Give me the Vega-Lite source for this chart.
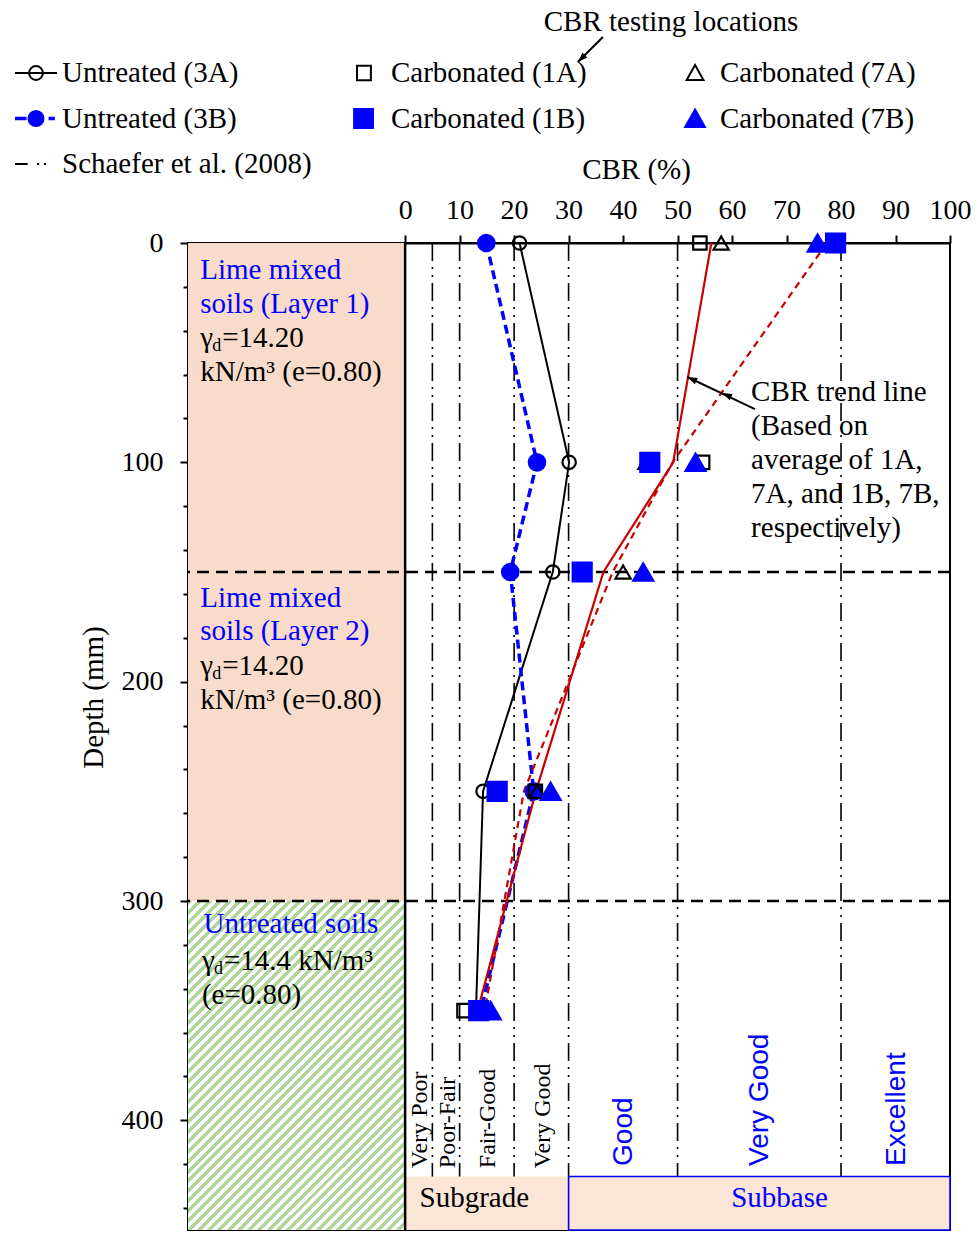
{
"$schema": "https://vega.github.io/schema/vega-lite/v6.json",
"width": 762,
"height": 987,
"autosize": {"type": "none"},
"padding": {"left": 188, "top": 243, "right": 28, "bottom": 11},
"background": "white",
"config": {
  "font": "Liberation Serif",
  "view": {"stroke": "black", "strokeWidth": 2},
  "axis": {"domainColor": "black", "domainWidth": 2, "tickColor": "black", "tickWidth": 2, "labelColor": "black", "labelFont": "Liberation Serif", "labelFontSize": 28, "titleFont": "Liberation Serif", "titleFontSize": 29, "titleFontWeight": "normal", "titleColor": "black", "grid": false, "labelFlush": false, "labelOverlap": false}
},
"datasets": {
  "tests": [
    {"location":"3A","depth":0,"cbr":21.0},{"location":"3A","depth":100,"cbr":30.1},{"location":"3A","depth":150,"cbr":27.1},{"location":"3A","depth":250,"cbr":14.3},{"location":"3A","depth":350,"cbr":13.0},
    {"location":"3B","depth":0,"cbr":14.9},{"location":"3B","depth":100,"cbr":24.2},{"location":"3B","depth":150,"cbr":19.3},{"location":"3B","depth":250,"cbr":23.6},{"location":"3B","depth":350,"cbr":13.9},
    {"location":"7A","depth":0,"cbr":58.0},{"location":"7A","depth":100,"cbr":44.2},{"location":"7A","depth":150,"cbr":40.0},{"location":"7A","depth":250,"cbr":24.2},{"location":"7A","depth":350,"cbr":15.8},
    {"location":"1A","depth":0,"cbr":54.1},{"location":"1A","depth":100,"cbr":54.6},{"location":"1A","depth":150,"cbr":32.8},{"location":"1A","depth":250,"cbr":23.9},{"location":"1A","depth":350,"cbr":10.8},
    {"location":"1B","depth":0,"cbr":79.0},{"location":"1B","depth":100,"cbr":44.9},{"location":"1B","depth":150,"cbr":32.5},{"location":"1B","depth":250,"cbr":16.9},{"location":"1B","depth":350,"cbr":13.5},
    {"location":"7B","depth":0,"cbr":75.7},{"location":"7B","depth":100,"cbr":53.3},{"location":"7B","depth":150,"cbr":43.7},{"location":"7B","depth":250,"cbr":26.7},{"location":"7B","depth":350,"cbr":15.7}
  ],
  "trend": [
    {"trend":"1A & 7A","depth":0,"cbr":56.2},{"trend":"1A & 7A","depth":100,"cbr":49.2},{"trend":"1A & 7A","depth":150,"cbr":36.4},{"trend":"1A & 7A","depth":250,"cbr":24.0},{"trend":"1A & 7A","depth":350,"cbr":13.3},
    {"trend":"1B & 7B","depth":0,"cbr":77.4},{"trend":"1B & 7B","depth":100,"cbr":49.1},{"trend":"1B & 7B","depth":150,"cbr":38.1},{"trend":"1B & 7B","depth":250,"cbr":21.8},{"trend":"1B & 7B","depth":350,"cbr":14.6}
  ],
  "schaefer": [{"cbr":5},{"cbr":10},{"cbr":20},{"cbr":30},{"cbr":50},{"cbr":80}],
  "classes": [
    {"class":"Very Poor","cbr":2.7,"use":"Subgrade"},{"class":"Poor-Fair","cbr":7.8,"use":"Subgrade"},{"class":"Fair-Good","cbr":15.3,"use":"Subgrade"},{"class":"Very Good","cbr":25.3,"use":"Subgrade"},
    {"class":"Good","cbr":40.2,"use":"Subbase"},{"class":"Very Good","cbr":65.2,"use":"Subbase"},{"class":"Excellent","cbr":90.3,"use":"Subbase"}
  ],
  "soils": [{"soil":"Lime mixed soils","top":0,"bottom":300},{"soil":"Untreated soils","top":300,"bottom":450}],
  "boundaries": [{"depth":150},{"depth":300}],
  "zones": [{"zone":"Subgrade","from":0,"to":30,"mid":12.7},{"zone":"Subbase","from":30,"to":100,"mid":68.7}],
  "soilText": [
    {"line":"Lime mixed","role":"heading","cbr":-37.6,"depth":16.4},
    {"line":"soils (Layer 1)","role":"heading","cbr":-37.6,"depth":31.9},
    {"line":"kN/m³ (e=0.80)","role":"note","cbr":-37.6,"depth":62.9},
    {"line":"Lime mixed","role":"heading","cbr":-37.6,"depth":165.8},
    {"line":"soils (Layer 2)","role":"heading","cbr":-37.6,"depth":181.0},
    {"line":"kN/m³ (e=0.80)","role":"note","cbr":-37.6,"depth":212.5},
    {"line":"Untreated soils","role":"heading","cbr":-37.0,"depth":314.7},
    {"line":"(e=0.80)","role":"note","cbr":-37.3,"depth":346.9}
  ],
  "gammaText": [
    {"cbr":-37.6,"depth":47.4,"rest":"=14.20"},
    {"cbr":-37.6,"depth":197.0,"rest":"=14.20"},
    {"cbr":-37.3,"depth":331.3,"rest":"=14.4 kN/m³"}
  ],
  "arrows": [
    {"arrow":"testing","cbr":36.3,"depth":-93.9,"cbr_end":31.7,"depth_end":-82.5},
    {"arrow":"trend","cbr":64.2,"depth":75.7,"cbr_end":51.8,"depth_end":61.1}
  ],
  "arrowheads": [
    {"arrow":"testing","cbr":31.7,"depth":-82.5},
    {"arrow":"trend","cbr":51.8,"depth":61.1},
    {"arrow":"trend","cbr":58.2,"depth":68.4}
  ],
  "notes": [
    {"note":"trend","cbr":63.5,"depth":72.0},
    {"note":"testing","cbr":48.8,"depth":-96.7}
  ],
  "legendItems": [
    {"item":"Untreated (3A)"},{"item":"Carbonated (1A)"},{"item":"Carbonated (7A)"},
    {"item":"Untreated (3B)"},{"item":"Carbonated (1B)"},{"item":"Carbonated (7B)"},
    {"item":"Schaefer et al. (2008)"}
  ]
},
"layer": [
  {
    "data": {"name": "soils"},
    "transform": [{"filter": "datum.soil === 'Lime mixed soils'"}],
    "mark": {"type": "rect", "fill": "#f8dbca"},
    "encoding": {
      "x": {"datum": -39.85, "type": "quantitative"},
      "x2": {"datum": 0},
      "y": {"field": "top", "type": "quantitative"},
      "y2": {"field": "bottom"}
    }
  },
  {
    "data": {"name": "soils"},
    "transform": [{"filter": "datum.soil === 'Untreated soils'"}],
    "mark": {"type": "rect", "fill": {"gradient": "linear", "x1": 0, "y1": 0, "x2": 0.7628, "y2": 1.1565, "stops": [
      {"offset":0,"color":"#b2d59c"},{"offset":0.0091,"color":"#b2d59c"},{"offset":0.0091,"color":"#fff"},{"offset":0.0182,"color":"#fff"},
      {"offset":0.0182,"color":"#b2d59c"},{"offset":0.0273,"color":"#b2d59c"},{"offset":0.0273,"color":"#fff"},{"offset":0.0364,"color":"#fff"},
      {"offset":0.0364,"color":"#b2d59c"},{"offset":0.0455,"color":"#b2d59c"},{"offset":0.0455,"color":"#fff"},{"offset":0.0545,"color":"#fff"},
      {"offset":0.0545,"color":"#b2d59c"},{"offset":0.0636,"color":"#b2d59c"},{"offset":0.0636,"color":"#fff"},{"offset":0.0727,"color":"#fff"},
      {"offset":0.0727,"color":"#b2d59c"},{"offset":0.0818,"color":"#b2d59c"},{"offset":0.0818,"color":"#fff"},{"offset":0.0909,"color":"#fff"},
      {"offset":0.0909,"color":"#b2d59c"},{"offset":0.1,"color":"#b2d59c"},{"offset":0.1,"color":"#fff"},{"offset":0.1091,"color":"#fff"},
      {"offset":0.1091,"color":"#b2d59c"},{"offset":0.1182,"color":"#b2d59c"},{"offset":0.1182,"color":"#fff"},{"offset":0.1273,"color":"#fff"},
      {"offset":0.1273,"color":"#b2d59c"},{"offset":0.1364,"color":"#b2d59c"},{"offset":0.1364,"color":"#fff"},{"offset":0.1455,"color":"#fff"},
      {"offset":0.1455,"color":"#b2d59c"},{"offset":0.1545,"color":"#b2d59c"},{"offset":0.1545,"color":"#fff"},{"offset":0.1636,"color":"#fff"},
      {"offset":0.1636,"color":"#b2d59c"},{"offset":0.1727,"color":"#b2d59c"},{"offset":0.1727,"color":"#fff"},{"offset":0.1818,"color":"#fff"},
      {"offset":0.1818,"color":"#b2d59c"},{"offset":0.1909,"color":"#b2d59c"},{"offset":0.1909,"color":"#fff"},{"offset":0.2,"color":"#fff"},
      {"offset":0.2,"color":"#b2d59c"},{"offset":0.2091,"color":"#b2d59c"},{"offset":0.2091,"color":"#fff"},{"offset":0.2182,"color":"#fff"},
      {"offset":0.2182,"color":"#b2d59c"},{"offset":0.2273,"color":"#b2d59c"},{"offset":0.2273,"color":"#fff"},{"offset":0.2364,"color":"#fff"},
      {"offset":0.2364,"color":"#b2d59c"},{"offset":0.2455,"color":"#b2d59c"},{"offset":0.2455,"color":"#fff"},{"offset":0.2545,"color":"#fff"},
      {"offset":0.2545,"color":"#b2d59c"},{"offset":0.2636,"color":"#b2d59c"},{"offset":0.2636,"color":"#fff"},{"offset":0.2727,"color":"#fff"},
      {"offset":0.2727,"color":"#b2d59c"},{"offset":0.2818,"color":"#b2d59c"},{"offset":0.2818,"color":"#fff"},{"offset":0.2909,"color":"#fff"},
      {"offset":0.2909,"color":"#b2d59c"},{"offset":0.3,"color":"#b2d59c"},{"offset":0.3,"color":"#fff"},{"offset":0.3091,"color":"#fff"},
      {"offset":0.3091,"color":"#b2d59c"},{"offset":0.3182,"color":"#b2d59c"},{"offset":0.3182,"color":"#fff"},{"offset":0.3273,"color":"#fff"},
      {"offset":0.3273,"color":"#b2d59c"},{"offset":0.3364,"color":"#b2d59c"},{"offset":0.3364,"color":"#fff"},{"offset":0.3455,"color":"#fff"},
      {"offset":0.3455,"color":"#b2d59c"},{"offset":0.3545,"color":"#b2d59c"},{"offset":0.3545,"color":"#fff"},{"offset":0.3636,"color":"#fff"},
      {"offset":0.3636,"color":"#b2d59c"},{"offset":0.3727,"color":"#b2d59c"},{"offset":0.3727,"color":"#fff"},{"offset":0.3818,"color":"#fff"},
      {"offset":0.3818,"color":"#b2d59c"},{"offset":0.3909,"color":"#b2d59c"},{"offset":0.3909,"color":"#fff"},{"offset":0.4,"color":"#fff"},
      {"offset":0.4,"color":"#b2d59c"},{"offset":0.4091,"color":"#b2d59c"},{"offset":0.4091,"color":"#fff"},{"offset":0.4182,"color":"#fff"},
      {"offset":0.4182,"color":"#b2d59c"},{"offset":0.4273,"color":"#b2d59c"},{"offset":0.4273,"color":"#fff"},{"offset":0.4364,"color":"#fff"},
      {"offset":0.4364,"color":"#b2d59c"},{"offset":0.4455,"color":"#b2d59c"},{"offset":0.4455,"color":"#fff"},{"offset":0.4545,"color":"#fff"},
      {"offset":0.4545,"color":"#b2d59c"},{"offset":0.4636,"color":"#b2d59c"},{"offset":0.4636,"color":"#fff"},{"offset":0.4727,"color":"#fff"},
      {"offset":0.4727,"color":"#b2d59c"},{"offset":0.4818,"color":"#b2d59c"},{"offset":0.4818,"color":"#fff"},{"offset":0.4909,"color":"#fff"},
      {"offset":0.4909,"color":"#b2d59c"},{"offset":0.5,"color":"#b2d59c"},{"offset":0.5,"color":"#fff"},{"offset":0.5091,"color":"#fff"},
      {"offset":0.5091,"color":"#b2d59c"},{"offset":0.5182,"color":"#b2d59c"},{"offset":0.5182,"color":"#fff"},{"offset":0.5273,"color":"#fff"},
      {"offset":0.5273,"color":"#b2d59c"},{"offset":0.5364,"color":"#b2d59c"},{"offset":0.5364,"color":"#fff"},{"offset":0.5455,"color":"#fff"},
      {"offset":0.5455,"color":"#b2d59c"},{"offset":0.5545,"color":"#b2d59c"},{"offset":0.5545,"color":"#fff"},{"offset":0.5636,"color":"#fff"},
      {"offset":0.5636,"color":"#b2d59c"},{"offset":0.5727,"color":"#b2d59c"},{"offset":0.5727,"color":"#fff"},{"offset":0.5818,"color":"#fff"},
      {"offset":0.5818,"color":"#b2d59c"},{"offset":0.5909,"color":"#b2d59c"},{"offset":0.5909,"color":"#fff"},{"offset":0.6,"color":"#fff"},
      {"offset":0.6,"color":"#b2d59c"},{"offset":0.6091,"color":"#b2d59c"},{"offset":0.6091,"color":"#fff"},{"offset":0.6182,"color":"#fff"},
      {"offset":0.6182,"color":"#b2d59c"},{"offset":0.6273,"color":"#b2d59c"},{"offset":0.6273,"color":"#fff"},{"offset":0.6364,"color":"#fff"},
      {"offset":0.6364,"color":"#b2d59c"},{"offset":0.6455,"color":"#b2d59c"},{"offset":0.6455,"color":"#fff"},{"offset":0.6545,"color":"#fff"},
      {"offset":0.6545,"color":"#b2d59c"},{"offset":0.6636,"color":"#b2d59c"},{"offset":0.6636,"color":"#fff"},{"offset":0.6727,"color":"#fff"},
      {"offset":0.6727,"color":"#b2d59c"},{"offset":0.6818,"color":"#b2d59c"},{"offset":0.6818,"color":"#fff"},{"offset":0.6909,"color":"#fff"},
      {"offset":0.6909,"color":"#b2d59c"},{"offset":0.7,"color":"#b2d59c"},{"offset":0.7,"color":"#fff"},{"offset":0.7091,"color":"#fff"},
      {"offset":0.7091,"color":"#b2d59c"},{"offset":0.7182,"color":"#b2d59c"},{"offset":0.7182,"color":"#fff"},{"offset":0.7273,"color":"#fff"},
      {"offset":0.7273,"color":"#b2d59c"},{"offset":0.7364,"color":"#b2d59c"},{"offset":0.7364,"color":"#fff"},{"offset":0.7455,"color":"#fff"},
      {"offset":0.7455,"color":"#b2d59c"},{"offset":0.7545,"color":"#b2d59c"},{"offset":0.7545,"color":"#fff"},{"offset":0.7636,"color":"#fff"},
      {"offset":0.7636,"color":"#b2d59c"},{"offset":0.7727,"color":"#b2d59c"},{"offset":0.7727,"color":"#fff"},{"offset":0.7818,"color":"#fff"},
      {"offset":0.7818,"color":"#b2d59c"},{"offset":0.7909,"color":"#b2d59c"},{"offset":0.7909,"color":"#fff"},{"offset":0.8,"color":"#fff"},
      {"offset":0.8,"color":"#b2d59c"},{"offset":0.8091,"color":"#b2d59c"},{"offset":0.8091,"color":"#fff"},{"offset":0.8182,"color":"#fff"},
      {"offset":0.8182,"color":"#b2d59c"},{"offset":0.8273,"color":"#b2d59c"},{"offset":0.8273,"color":"#fff"},{"offset":0.8364,"color":"#fff"},
      {"offset":0.8364,"color":"#b2d59c"},{"offset":0.8455,"color":"#b2d59c"},{"offset":0.8455,"color":"#fff"},{"offset":0.8545,"color":"#fff"},
      {"offset":0.8545,"color":"#b2d59c"},{"offset":0.8636,"color":"#b2d59c"},{"offset":0.8636,"color":"#fff"},{"offset":0.8727,"color":"#fff"},
      {"offset":0.8727,"color":"#b2d59c"},{"offset":0.8818,"color":"#b2d59c"},{"offset":0.8818,"color":"#fff"},{"offset":0.8909,"color":"#fff"},
      {"offset":0.8909,"color":"#b2d59c"},{"offset":0.9,"color":"#b2d59c"},{"offset":0.9,"color":"#fff"},{"offset":0.9091,"color":"#fff"},
      {"offset":0.9091,"color":"#b2d59c"},{"offset":0.9182,"color":"#b2d59c"},{"offset":0.9182,"color":"#fff"},{"offset":0.9273,"color":"#fff"},
      {"offset":0.9273,"color":"#b2d59c"},{"offset":0.9364,"color":"#b2d59c"},{"offset":0.9364,"color":"#fff"},{"offset":0.9455,"color":"#fff"},
      {"offset":0.9455,"color":"#b2d59c"},{"offset":0.9545,"color":"#b2d59c"},{"offset":0.9545,"color":"#fff"},{"offset":0.9636,"color":"#fff"},
      {"offset":0.9636,"color":"#b2d59c"},{"offset":0.9727,"color":"#b2d59c"},{"offset":0.9727,"color":"#fff"},{"offset":0.9818,"color":"#fff"},
      {"offset":0.9818,"color":"#b2d59c"},{"offset":0.9909,"color":"#b2d59c"},{"offset":0.9909,"color":"#fff"},{"offset":1,"color":"#fff"}
    ]}},
    "encoding": {
      "x": {"datum": -39.85, "type": "quantitative"},
      "x2": {"datum": 0},
      "y": {"field": "top", "type": "quantitative"},
      "y2": {"field": "bottom"}
    }
  },
  {
    "data": {"name": "schaefer"},
    "mark": {"type": "rule", "color": "black", "strokeWidth": 1.6, "strokeDash": [18, 6, 2, 6, 2, 6]},
    "encoding": {"x": {"field": "cbr", "type": "quantitative"}}
  },
  {
    "data": {"name": "zones"},
    "mark": {"type": "rect", "fill": "#fbe5d6", "strokeWidth": 1.6},
    "encoding": {
      "x": {"field": "from", "type": "quantitative"},
      "x2": {"field": "to"},
      "y": {"datum": 425.6, "type": "quantitative"},
      "y2": {"datum": 450},
      "stroke": {"condition": {"test": "datum.zone === 'Subbase'", "value": "#0000ff"}, "value": "transparent"}
    }
  },
  {
    "data": {"name": "boundaries"},
    "mark": {"type": "rule", "color": "black", "strokeWidth": 2.5, "strokeDash": [12, 7]},
    "encoding": {"y": {"field": "depth", "type": "quantitative"}}
  },
  {
    "data": {"values": [{"cbr": 0}]},
    "mark": {"type": "rule", "color": "black", "strokeWidth": 2.5},
    "encoding": {"x": {"field": "cbr", "type": "quantitative"}}
  },
  {
    "data": {"name": "tests"},
    "transform": [{"filter": "datum.location === '3A'"}],
    "mark": {"type": "line", "color": "black", "strokeWidth": 2},
    "encoding": {
      "x": {"field": "cbr", "type": "quantitative",
        "scale": {"domain": [-39.85, 100], "nice": false, "zero": false},
        "axis": {"orient": "top", "title": "CBR (%)",
          "values": [0,5,10,15,20,25,30,35,40,45,50,55,60,65,70,75,80,85,90,95,100],
          "labelExpr": "datum.value % 10 === 0 ? datum.label : ''",
          "tickSize": {"condition": {"test": "datum.value % 10 === 0", "value": 8}, "value": 5},
          "labelPadding": 11, "titleX": 448, "titleY": -74, "titleBaseline": "middle"}},
      "y": {"field": "depth", "type": "quantitative",
        "scale": {"domain": [0, 450], "nice": false, "zero": false, "reverse": true},
        "axis": {"title": "Depth (mm)",
          "values": [0,10,20,30,40,50,60,70,80,90,100,110,120,130,140,150,160,170,180,190,200,210,220,230,240,250,260,270,280,290,300,310,320,330,340,350,360,370,380,390,400,410,420,430,440,450],
          "labelExpr": "datum.value % 50 === 0 ? datum.label : ''",
          "tickSize": {"condition": {"test": "datum.value % 50 === 0", "value": 8}, "value": 5},
          "labelPadding": 17, "titleX": -95, "titleY": 454, "titleBaseline": "middle"}},
      "order": {"field": "depth", "type": "quantitative"}
    }
  },
  {
    "data": {"name": "tests"},
    "transform": [{"filter": "datum.location === '3B'"}],
    "mark": {"type": "line", "color": "#0000ff", "strokeWidth": 3.5, "strokeDash": [9, 5]},
    "encoding": {
      "x": {"field": "cbr", "type": "quantitative"},
      "y": {"field": "depth", "type": "quantitative"},
      "order": {"field": "depth", "type": "quantitative"}
    }
  },
  {
    "data": {"name": "trend"},
    "transform": [{"filter": "datum.trend === '1A & 7A'"}],
    "mark": {"type": "line", "color": "#c80000", "strokeWidth": 2.2},
    "encoding": {
      "x": {"field": "cbr", "type": "quantitative"},
      "y": {"field": "depth", "type": "quantitative"},
      "order": {"field": "depth", "type": "quantitative"}
    }
  },
  {
    "data": {"name": "trend"},
    "transform": [{"filter": "datum.trend === '1B & 7B'"}],
    "mark": {"type": "line", "color": "#c80000", "strokeWidth": 2.2, "strokeDash": [7, 5]},
    "encoding": {
      "x": {"field": "cbr", "type": "quantitative"},
      "y": {"field": "depth", "type": "quantitative"},
      "order": {"field": "depth", "type": "quantitative"}
    }
  },
  {
    "data": {"name": "tests"},
    "mark": {"type": "point", "opacity": 1, "strokeWidth": 2.2},
    "encoding": {
      "x": {"field": "cbr", "type": "quantitative"},
      "y": {"field": "depth", "type": "quantitative"},
      "shape": {"condition": [
        {"test": "indexof(datum.location, '1') === 0", "value": "square"},
        {"test": "indexof(datum.location, '7') === 0", "value": "triangle-up"}], "value": "circle"},
      "stroke": {"condition": {"test": "indexof(datum.location, 'B') >= 0", "value": "#0000ff"}, "value": "black"},
      "fill": {"condition": {"test": "indexof(datum.location, 'B') >= 0", "value": "#0000ff"}, "value": "transparent"},
      "size": {"condition": [
        {"test": "datum.location === '7B'", "value": 400},
        {"test": "datum.location === '1B'", "value": 360},
        {"test": "datum.location === '3B'", "value": 270},
        {"test": "datum.location === '7A'", "value": 230}], "value": 180}
    }
  },
  {
    "data": {"name": "soilText"},
    "mark": {"type": "text", "align": "left", "baseline": "alphabetic", "fontSize": 29},
    "encoding": {
      "x": {"field": "cbr", "type": "quantitative"},
      "y": {"field": "depth", "type": "quantitative"},
      "text": {"field": "line"},
      "color": {"condition": {"test": "datum.role === 'heading'", "value": "#0000ff"}, "value": "black"}
    }
  },
  {
    "data": {"name": "gammaText"},
    "mark": {"type": "text", "align": "left", "baseline": "alphabetic", "fontSize": 29, "color": "black", "text": "γ"},
    "encoding": {"x": {"field": "cbr", "type": "quantitative"}, "y": {"field": "depth", "type": "quantitative"}}
  },
  {
    "data": {"name": "gammaText"},
    "mark": {"type": "text", "align": "left", "baseline": "alphabetic", "fontSize": 18, "color": "black", "text": "d", "dx": 12, "dy": 4},
    "encoding": {"x": {"field": "cbr", "type": "quantitative"}, "y": {"field": "depth", "type": "quantitative"}}
  },
  {
    "data": {"name": "gammaText"},
    "mark": {"type": "text", "align": "left", "baseline": "alphabetic", "fontSize": 29, "color": "black", "dx": 22},
    "encoding": {"x": {"field": "cbr", "type": "quantitative"}, "y": {"field": "depth", "type": "quantitative"}, "text": {"field": "rest"}}
  },
  {
    "data": {"name": "classes"},
    "transform": [{"filter": "datum.use === 'Subgrade'"}],
    "mark": {"type": "text", "angle": 270, "align": "left", "baseline": "middle", "fontSize": 24, "color": "black"},
    "encoding": {"x": {"field": "cbr", "type": "quantitative"}, "y": {"datum": 421.8, "type": "quantitative"}, "text": {"field": "class"}}
  },
  {
    "data": {"name": "classes"},
    "transform": [{"filter": "datum.use === 'Subbase'"}],
    "mark": {"type": "text", "angle": 270, "align": "left", "baseline": "middle", "fontSize": 28, "font": "Liberation Sans", "color": "#0000ff"},
    "encoding": {"x": {"field": "cbr", "type": "quantitative"}, "y": {"datum": 420.8, "type": "quantitative"}, "text": {"field": "class"}}
  },
  {
    "data": {"name": "zones"},
    "mark": {"type": "text", "align": "center", "baseline": "alphabetic", "fontSize": 29},
    "encoding": {
      "x": {"field": "mid", "type": "quantitative"},
      "y": {"datum": 439.6, "type": "quantitative"},
      "text": {"field": "zone"},
      "color": {"condition": {"test": "datum.zone === 'Subbase'", "value": "#0000ff"}, "value": "black"}
    }
  },
  {
    "data": {"name": "notes"},
    "transform": [{"filter": "datum.note === 'trend'"}],
    "mark": {"type": "text", "align": "left", "baseline": "alphabetic", "fontSize": 29, "color": "black", "lineHeight": 34,
      "text": ["CBR trend line", "(Based on", "average of 1A,", "7A, and 1B, 7B,", "respectively)"]},
    "encoding": {"x": {"field": "cbr", "type": "quantitative"}, "y": {"field": "depth", "type": "quantitative"}}
  },
  {
    "data": {"name": "notes"},
    "transform": [{"filter": "datum.note === 'testing'"}],
    "mark": {"type": "text", "align": "center", "baseline": "alphabetic", "fontSize": 29, "color": "black", "text": "CBR testing locations"},
    "encoding": {"x": {"field": "cbr", "type": "quantitative"}, "y": {"field": "depth", "type": "quantitative"}}
  },
  {
    "data": {"name": "arrows"},
    "mark": {"type": "rule", "color": "black", "strokeWidth": 2},
    "encoding": {
      "x": {"field": "cbr", "type": "quantitative"},
      "y": {"field": "depth", "type": "quantitative"},
      "x2": {"field": "cbr_end"},
      "y2": {"field": "depth_end"}
    }
  },
  {
    "data": {"name": "arrowheads"},
    "transform": [{"filter": "datum.arrow === 'testing'"}],
    "mark": {"type": "point", "shape": "M0,0L0.45,1.3L-0.45,1.3Z", "filled": true, "color": "black", "opacity": 1, "size": 230, "angle": 225},
    "encoding": {"x": {"field": "cbr", "type": "quantitative"}, "y": {"field": "depth", "type": "quantitative"}}
  },
  {
    "data": {"name": "arrowheads"},
    "transform": [{"filter": "datum.arrow === 'trend'"}],
    "mark": {"type": "point", "shape": "M0,0L0.45,1.3L-0.45,1.3Z", "filled": true, "color": "black", "opacity": 1, "size": 230, "angle": 295},
    "encoding": {"x": {"field": "cbr", "type": "quantitative"}, "y": {"field": "depth", "type": "quantitative"}}
  },
  {
    "data": {"name": "legendItems"},
    "transform": [{"filter": "false"}],
    "mark": {"type": "point", "filled": false, "opacity": 1, "strokeWidth": 2},
    "encoding": {
      "shape": {"field": "item", "type": "nominal",
        "scale": {
          "domain": ["Untreated (3A)","Carbonated (1A)","Carbonated (7A)","Untreated (3B)","Carbonated (1B)","Carbonated (7B)","Schaefer et al. (2008)"],
          "range": [
            "M-1,0H1M-0.33,0A0.33,0.33,0,1,1,0.33,0A0.33,0.33,0,1,1,-0.33,0",
            "M-0.38,-0.34H0.28V0.34H-0.38Z",
            "M0.05,-0.38L0.45,0.33L-0.35,0.33Z",
            "M-1,-0.04H-0.45M-1,0.04H-0.45M0.6,-0.04H0.9M0.6,0.04H0.9M-0.36,0A0.36,0.36,0,1,1,0.36,0A0.36,0.36,0,1,1,-0.36,0",
            "M-0.52,-0.45H0.38V0.45H-0.52Z",
            "M0.05,-0.43L0.52,0.4L-0.42,0.4Z",
            "M-1,0H-0.4M0.05,0H0.15M0.38,0H0.48"
          ]},
        "legend": {
          "title": null, "orient": "none", "legendX": -174, "legendY": -192,
          "columns": 3, "direction": "horizontal", "gridAlign": "all",
          "columnPadding": 31, "rowPadding": 8.5, "padding": 0,
          "symbolSize": 1764, "symbolStrokeWidth": 2, "symbolOffset": 0,
          "labelFont": "Liberation Serif", "labelFontSize": 29, "labelColor": "black", "labelLimit": 400, "labelOffset": 4
        }},
      "stroke": {"field": "item", "type": "nominal",
        "scale": {
          "domain": ["Untreated (3A)","Carbonated (1A)","Carbonated (7A)","Untreated (3B)","Carbonated (1B)","Carbonated (7B)","Schaefer et al. (2008)"],
          "range": ["black","black","black","#0000ff","#0000ff","#0000ff","black"]},
        "legend": {
          "title": null, "orient": "none", "legendX": -174, "legendY": -192,
          "columns": 3, "direction": "horizontal", "gridAlign": "all",
          "columnPadding": 31, "rowPadding": 8.5, "padding": 0,
          "symbolSize": 1764, "symbolStrokeWidth": 2, "symbolOffset": 0,
          "labelFont": "Liberation Serif", "labelFontSize": 29, "labelColor": "black", "labelLimit": 400, "labelOffset": 4
        }},
      "fill": {"field": "item", "type": "nominal",
        "scale": {
          "domain": ["Untreated (3A)","Carbonated (1A)","Carbonated (7A)","Untreated (3B)","Carbonated (1B)","Carbonated (7B)","Schaefer et al. (2008)"],
          "range": ["transparent","transparent","transparent","#0000ff","#0000ff","#0000ff","transparent"]},
        "legend": {
          "title": null, "orient": "none", "legendX": -174, "legendY": -192,
          "columns": 3, "direction": "horizontal", "gridAlign": "all",
          "columnPadding": 31, "rowPadding": 8.5, "padding": 0,
          "symbolSize": 1764, "symbolStrokeWidth": 2, "symbolOffset": 0,
          "labelFont": "Liberation Serif", "labelFontSize": 29, "labelColor": "black", "labelLimit": 400, "labelOffset": 4
        }}
    }
  }
]
}
